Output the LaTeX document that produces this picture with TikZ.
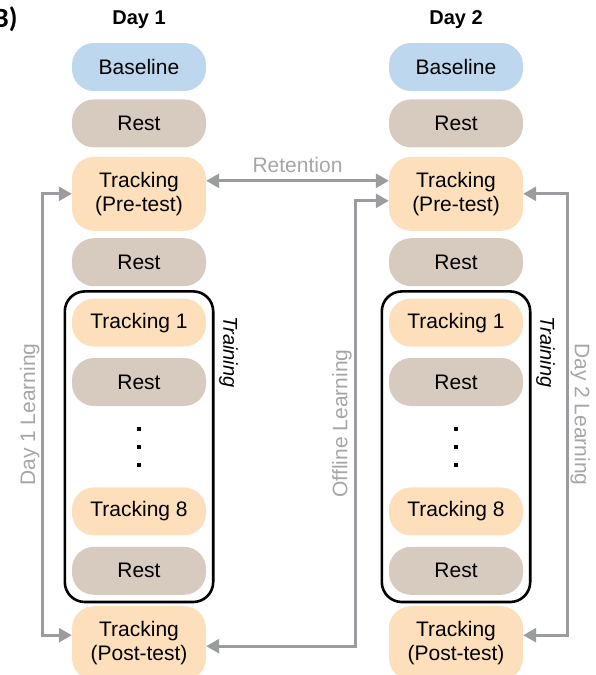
\documentclass[tikz,border=0pt]{standalone}
\usepackage{fontspec}
\setmainfont{Liberation Sans}
\newfontfamily\panelfont{Carlito}
\usetikzlibrary{positioning, fit, arrows.meta}
\definecolor{baseblue}{HTML}{BDD7EE}
\definecolor{resttan}{HTML}{D7CBC0}
\definecolor{trackpeach}{HTML}{FDDFBB}
\definecolor{linkgray}{HTML}{9A9C9F}
\definecolor{notegray}{HTML}{A6A6A6}
\tikzstyle{stage} = [rectangle, rounded corners=22pt, minimum width=134pt, minimum height=48pt, text centered, align=center, font=\fontsize{21}{24}\selectfont]
\tikzstyle{basebox} = [stage, fill=baseblue]
\tikzstyle{restbox} = [stage, fill=resttan]
\tikzstyle{trackbox} = [stage, fill=trackpeach]
\tikzstyle{testbox} = [trackbox, minimum height=74pt]
\tikzstyle{trainframe} = [draw=black, line width=2.6pt, rounded corners=20pt, inner sep=7pt]
\tikzstyle{link} = [line width=2.8pt, draw=linkgray, {Triangle[length=13pt,width=14pt]}-{Triangle[length=13pt,width=14pt]}]
\tikzstyle{note} = [text=notegray, font=\fontsize{21}{24}\selectfont, inner sep=2pt]

\begin{document}
\begin{tikzpicture}[x=1pt, y=1pt]
    \useasboundingbox (0,0) rectangle (595,-675);
    \node (panel) [anchor=base east, font=\panelfont\bfseries\fontsize{28}{30}\selectfont] at (21,-27) {B)};

    \foreach \d/\x in {1/139, 2/456} {
        \node (day\d) at (\x,-20) [font=\bfseries\fontsize{20}{24}\selectfont] {Day \d};
        \node (base\d) [basebox] at (\x,-67) {Baseline};
        \node (restA\d) [restbox, below=8pt of base\d] {Rest};
        \node (pre\d) [testbox, below=9pt of restA\d] {Tracking\\(Pre-test)};
        \node (restB\d) [restbox, below=7pt of pre\d] {Rest};
        \node (trA\d) [trackbox, below=12pt of restB\d] {Tracking 1};
        \node (restC\d) [restbox, below=11pt of trA\d] {Rest};
        \node (trB\d) [trackbox, below=81pt of restC\d] {Tracking 8};
        \node (restD\d) [restbox, below=11pt of trB\d] {Rest};
        \node (post\d) [testbox, below=11pt of restD\d] {Tracking\\(Post-test)};
        % training block
        \node (train\d) [trainframe, fit=(trA\d)(restD\d)] {};
        \node (trlabel\d) [rotate=-90, font=\itshape\fontsize{20}{24}\selectfont]
            at ([xshift=14pt, yshift=-62pt]train\d.north east) {Training};
        \foreach \k in {23, 41, 59}
            \fill ([yshift=-\k]restC\d.south) ++(-2,-2) rectangle ++(4,4);
    }

    \draw [link] ([yshift=13]pre1.east) -- node [note, above=5pt] {Retention}
        ([yshift=13]pre2.west);
    \draw [link] ([yshift=8]post1.west) -- ++(-29,0) coordinate (d1low)
        -- node [note, sloped, above] {Day 1 Learning} (d1low |- pre1.west) -- (pre1.west);
    \coordinate (offin) at ([yshift=-7]pre2.west);
    \draw [link] ([yshift=-3]post1.east) -- ++(149,0) coordinate (offlow)
        -- node [note, sloped, above] {Offline Learning} (offlow |- offin) -- (offin);
    \coordinate (d2in) at ([yshift=8]post2.east);
    \draw [link] (pre2.east) -- ++(44,0) coordinate (d2top)
        -- node [note, sloped, above] {Day 2 Learning} (d2top |- d2in) -- (d2in);
\end{tikzpicture}
\end{document}
